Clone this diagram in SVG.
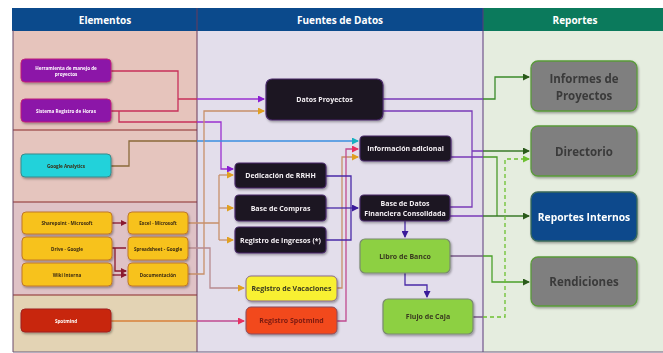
<svg xmlns="http://www.w3.org/2000/svg" width="663" height="353" viewBox="0 0 663 353">
<defs>
<filter id="sh" x="-20%" y="-20%" width="140%" height="160%"><feDropShadow dx="1" dy="1.5" stdDeviation="1.2" flood-color="#000" flood-opacity="0.35"/></filter>
<marker id="aP" markerUnits="userSpaceOnUse" markerWidth="7" markerHeight="7" refX="6" refY="3.5" orient="auto"><path d="M0,0 L7,3.5 L0,7 z" fill="#8a1ed0"/></marker>
<marker id="aG" markerUnits="userSpaceOnUse" markerWidth="7" markerHeight="7" refX="6" refY="3.5" orient="auto"><path d="M0,0 L7,3.5 L0,7 z" fill="#e0a020"/></marker>
<marker id="aT" markerUnits="userSpaceOnUse" markerWidth="7" markerHeight="7" refX="6" refY="3.5" orient="auto"><path d="M0,0 L7,3.5 L0,7 z" fill="#18b0c0"/></marker>
<marker id="aK" markerUnits="userSpaceOnUse" markerWidth="7" markerHeight="7" refX="6" refY="3.5" orient="auto"><path d="M0,0 L7,3.5 L0,7 z" fill="#e83060"/></marker>
<marker id="aI" markerUnits="userSpaceOnUse" markerWidth="7" markerHeight="7" refX="6" refY="3.5" orient="auto"><path d="M0,0 L7,3.5 L0,7 z" fill="#3a1a9a"/></marker>
<marker id="aD" markerUnits="userSpaceOnUse" markerWidth="7" markerHeight="7" refX="6" refY="3.5" orient="auto"><path d="M0,0 L7,3.5 L0,7 z" fill="#2a5a1a"/></marker>
<marker id="aL" markerUnits="userSpaceOnUse" markerWidth="7" markerHeight="7" refX="6" refY="3.5" orient="auto"><path d="M0,0 L7,3.5 L0,7 z" fill="#6cc030"/></marker>
<marker id="aR" markerUnits="userSpaceOnUse" markerWidth="6" markerHeight="6" refX="5" refY="3" orient="auto"><path d="M0,0 L6,3 L0,6 z" fill="#8a1a30"/></marker>
</defs>
<style>
text{font-family:"Open Sans","Liberation Sans",sans-serif;text-anchor:middle;dominant-baseline:central;font-weight:bold}
.c{fill:none;stroke-width:1.3}
.hd{fill:#fff;font-size:10px}
.purple{fill:#8c12a8;stroke:#c0207a;stroke-width:1}
.cyan{fill:#22d2da;stroke:#3a8a8a;stroke-width:1}
.yel{fill:#f7c21c;stroke:#c0782a;stroke-width:1}
.red{fill:#c8280a;stroke:#a02020;stroke-width:1}
.blk{fill:#1b1420;stroke:#4a2a6a;stroke-width:1.2}
.grn{fill:#8dd042;stroke:#7a8a70;stroke-width:1.2}
.gry{fill:#7f7f7f;stroke:#5a9a3a;stroke-width:1.3}
.blu{fill:#0b4a8c;stroke:#3a6a5a;stroke-width:1.3}
.tw{fill:#fff;font-size:4.6px}
.td{fill:#3a2a10;font-size:4.6px}
.tb{fill:#f4f0f4;font-size:7px}
.tm{fill:#3a3a20;font-size:7px}
.tr{fill:#3a3a3a;font-size:11.5px}
</style>
<rect x="0" y="0" width="663" height="353" fill="#fff"/>
<g id="columns">
<rect x="13" y="30" width="184" height="100" fill="#e6c4bc"/>
<rect x="13" y="130" width="184" height="72" fill="#e5c5be"/>
<rect x="13" y="202" width="184" height="93" fill="#dfc2c6"/>
<rect x="13" y="295" width="184" height="57" fill="#e3d3b4"/>
<rect x="197" y="30" width="286" height="322" fill="#e3deeb"/>
<rect x="483" y="30" width="180" height="322" fill="#e5eddf"/>
<rect x="12" y="8" width="185" height="23" fill="#0b4a8c"/>
<rect x="197" y="8" width="286" height="23" fill="#0b4a8c"/>
<rect x="483" y="8" width="180" height="23" fill="#0b7a5c"/>
<line x1="13" y1="130" x2="197" y2="130" stroke="#8a2a2a" stroke-width="1"/>
<line x1="13" y1="202" x2="197" y2="202" stroke="#8a2a2a" stroke-width="1"/>
<line x1="13" y1="295" x2="197" y2="295" stroke="#8a2a2a" stroke-width="1"/>
<line x1="13" y1="30" x2="13" y2="352" stroke="#6a4a6a" stroke-width="1"/>
<line x1="197" y1="8" x2="197" y2="352" stroke="#6a3a5a" stroke-width="1"/>
<line x1="483" y1="8" x2="483" y2="352" stroke="#5a3a7a" stroke-width="1"/>
<line x1="13" y1="352" x2="663" y2="352" stroke="#6a5a7a" stroke-width="1"/>
<text class="hd" x="105" y="19.5">Elementos</text>
<text class="hd" x="340" y="19.5">Fuentes de Datos</text>
<text class="hd" x="575" y="19.5">Reportes</text>
</g>
<g id="connectors">
<path class="c" stroke="#c8305a" d="M111,71 H178 V111 H111 M178,99 H197 M119,111 V122 H197"/>
<path class="c" stroke="#9a30d0" d="M197,99 H264" marker-end="url(#aP)"/>
<path class="c" stroke="#9a30d0" d="M197,122 H221 V169 H233" marker-end="url(#aP)"/>
<path class="c" stroke="#8a6a3a" d="M111,166 H129 V141 H197"/>
<path class="c" stroke="#3a8ee0" d="M197,141 H358" marker-end="url(#aT)"/>
<path class="c" stroke="#c8906a" d="M188,274 H204 V111 H264" marker-end="url(#aG)"/>
<path class="c" stroke="#c8906a" d="M188,223 H219 M219,175 V240"/>
<path class="c" stroke="#c8906a" d="M219,175 H233" marker-end="url(#aG)"/>
<path class="c" stroke="#c8906a" d="M219,208 H233" marker-end="url(#aG)"/>
<path class="c" stroke="#c8906a" d="M219,240 H233" marker-end="url(#aG)"/>
<path class="c" stroke="#b88a90" d="M188,248 H210 V288 H244" marker-end="url(#aG)"/>
<path class="c" stroke="#d8803a" d="M111,321 H197"/>
<path class="c" stroke="#c04a90" d="M197,321 H244" marker-end="url(#aK)"/>
<path class="c" stroke="#8a1a30" d="M112,223 H126" marker-end="url(#aR)"/>
<path class="c" stroke="#8a1a30" d="M112,248 H126 M115,248 V271 H126" marker-end="url(#aR)"/>
<path class="c" stroke="#8a1a30" d="M112,275 H126" marker-end="url(#aR)"/>
<path class="c" stroke="#c8906a" d="M337,288 H342 V157 H358" marker-end="url(#aG)"/>
<path class="c" stroke="#c04a90" d="M337,321 H346 V149 H358" marker-end="url(#aK)"/>
<path class="c" stroke="#4a2aa8" d="M326,176 H351 V240 H326"/>
<path class="c" stroke="#4a2aa8" d="M326,208 H358" marker-end="url(#aI)"/>
<path class="c" stroke="#4a2aa8" d="M405,221 V237" marker-end="url(#aI)"/>
<path class="c" stroke="#4a2aa8" d="M405,273 V285 H427 V297" marker-end="url(#aI)"/>
<path class="c" stroke="#7a3ab8" d="M383,99 H483 M383,111 H472 V207 H450 M472,151 H483 M451,157 H483 M450,216 H483"/>
<path class="c" stroke="#7a5a8a" d="M450,256 H483 M473,317 H483"/>
<path class="c" stroke="#3a8a2a" d="M483,99 H495 V77 H529" marker-end="url(#aD)"/>
<path class="c" stroke="#3a7a2a" d="M483,151 H529" marker-end="url(#aD)"/>
<path class="c" stroke="#4a9a2a" d="M483,157 H497 V216"/>
<path class="c" stroke="#3a7a2a" d="M483,216 H529" marker-end="url(#aD)"/>
<path class="c" stroke="#4aa02a" d="M483,256 H492 V282 H529" marker-end="url(#aD)"/>
<path class="c" stroke="#6cc030" stroke-dasharray="4,3" d="M483,317 H505 V159 H529" marker-end="url(#aL)"/>
</g>
<g id="herramienta" filter="url(#sh)"><rect class="purple" x="21" y="59" width="90" height="23" rx="4"/><text class="tw" x="66" y="67.5">Herramienta de manejo de</text><text class="tw" x="66" y="74">proyectos</text></g>
<g id="sistema-horas" filter="url(#sh)"><rect class="purple" x="21" y="99" width="90" height="23" rx="4"/><text class="tw" x="66" y="110.5">Sistema Registro de Horas</text></g>
<g id="google-analytics" filter="url(#sh)"><rect class="cyan" x="21" y="154" width="90" height="23" rx="4"/><text class="td" x="66" y="165.5">Google Analytics</text></g>
<g id="sharepoint" filter="url(#sh)"><rect class="yel" x="22" y="212" width="90" height="22" rx="4"/><text class="td" x="67" y="223">Sharepoint - Microsoft</text></g>
<g id="drive" filter="url(#sh)"><rect class="yel" x="22" y="237" width="90" height="23" rx="4"/><text class="td" x="67" y="248.5">Drive - Google</text></g>
<g id="wiki" filter="url(#sh)"><rect class="yel" x="22" y="263" width="90" height="23" rx="4"/><text class="td" x="67" y="274.5">Wiki Interna</text></g>
<g id="excel" filter="url(#sh)"><rect class="yel" x="128" y="212" width="60" height="22" rx="4"/><text class="td" x="158" y="223">Excel - Microsoft</text></g>
<g id="spreadsheet" filter="url(#sh)"><rect class="yel" x="128" y="237" width="60" height="23" rx="4"/><text class="td" x="158" y="248.5">Spreadsheet - Google</text></g>
<g id="documentacion" filter="url(#sh)"><rect class="yel" x="128" y="263" width="60" height="23" rx="4"/><text class="td" x="158" y="274.5">Documentación</text></g>
<g id="spotmind" filter="url(#sh)"><rect class="red" x="21" y="309" width="90" height="23" rx="4"/><text class="tw" x="66" y="320.5">Spotmind</text></g>
<g id="datos-proyectos" filter="url(#sh)"><rect class="blk" x="266" y="79" width="117" height="41" rx="6"/><text class="tb" x="324.5" y="99.5">Datos Proyectos</text></g>
<g id="informacion-adicional" filter="url(#sh)"><rect class="blk" x="360" y="136" width="91" height="25" rx="4"/><text class="tb" x="405.5" y="148.5">Información adicional</text></g>
<g id="dedicacion-rrhh" filter="url(#sh)"><rect class="blk" x="235" y="163" width="91" height="25" rx="4"/><text class="tb" x="280.5" y="175.5">Dedicación de RRHH</text></g>
<g id="base-compras" filter="url(#sh)"><rect class="blk" x="235" y="195" width="91" height="26" rx="4"/><text class="tb" x="280.5" y="208">Base de Compras</text></g>
<g id="registro-ingresos" filter="url(#sh)"><rect class="blk" x="235" y="227" width="91" height="26" rx="4"/><text class="tb" x="280.5" y="240">Registro de Ingresos (*)</text></g>
<g id="base-datos-financiera" filter="url(#sh)"><rect class="blk" x="360" y="195" width="90" height="26" rx="4"/><text class="tb" x="405" y="203.5">Base de Datos</text><text class="tb" x="405" y="213">Financiera Consolidada</text></g>
<g id="libro-banco" filter="url(#sh)"><rect class="grn" x="360" y="239" width="90" height="34" rx="5"/><text class="tm" x="405" y="256">Libro de Banco</text></g>
<g id="flujo-caja" filter="url(#sh)"><rect class="grn" x="383" y="299" width="90" height="35" rx="5"/><text class="tm" x="428" y="316.5">Flujo de Caja</text></g>
<g id="registro-vacaciones" filter="url(#sh)"><rect x="246" y="276" width="91" height="25" rx="5" fill="#f8f032" stroke="#8a6a8a" stroke-width="1"/><text class="tm" x="291.5" y="288.5">Registro de Vacaciones</text></g>
<g id="registro-spotmind" filter="url(#sh)"><rect x="246" y="307" width="91" height="27" rx="5" fill="#f24a1e" stroke="#8a4a5a" stroke-width="1"/><text x="291.5" y="320.5" font-size="7px" fill="#7a1a10">Registro Spotmind</text></g>
<g id="informes-proyectos" filter="url(#sh)"><rect class="gry" x="531" y="61" width="106" height="50" rx="7"/><text class="tr" x="584" y="78.5">Informes de</text><text class="tr" x="584" y="95">Proyectos</text></g>
<g id="directorio" filter="url(#sh)"><rect class="gry" x="531" y="126" width="106" height="50" rx="7"/><text class="tr" x="584" y="151">Directorio</text></g>
<g id="reportes-internos" filter="url(#sh)"><rect class="blu" x="531" y="192" width="106" height="49" rx="7"/><text x="584" y="216.5" font-size="10.3px" fill="#ffffff">Reportes Internos</text></g>
<g id="rendiciones" filter="url(#sh)"><rect class="gry" x="531" y="257" width="106" height="49" rx="7"/><text class="tr" x="584" y="281.5">Rendiciones</text></g>
</svg>
